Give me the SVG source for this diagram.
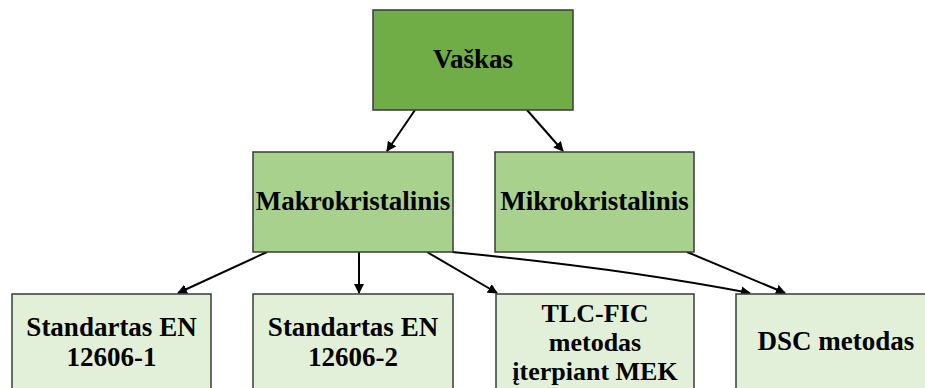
<svg xmlns="http://www.w3.org/2000/svg" width="925" height="388" viewBox="0 0 925 388">
<style>
.box{stroke:#3a3a3a;stroke-width:1.5}
.l1{fill:#70AD47}
.l2{fill:#A9D18E}
.l3{fill:#E2F0D9}
text{font-family:"Liberation Serif","Times New Roman",serif;font-weight:bold;font-size:27px;fill:#000;text-anchor:middle}
.t3{font-size:26px}
.c{fill:none;stroke:#000;stroke-width:2}
</style>
<defs>
<marker id="ah" viewBox="0 0 10 10" refX="9" refY="5" markerWidth="5" markerHeight="5" orient="auto" markerUnits="strokeWidth">
<path d="M0,0 L10,5 L0,10 z" fill="#000"/>
</marker>
</defs>
<rect width="925" height="388" fill="#fff"/>
<g id="connectors">
<line class="c" x1="415" y1="110" x2="387" y2="151" marker-end="url(#ah)"/>
<line class="c" x1="527" y1="110" x2="563" y2="151" marker-end="url(#ah)"/>
<line class="c" x1="267" y1="252" x2="178" y2="293" marker-end="url(#ah)"/>
<line class="c" x1="359" y1="252" x2="359" y2="293" marker-end="url(#ah)"/>
<line class="c" x1="427" y1="252" x2="497" y2="293" marker-end="url(#ah)"/>
<path class="c" d="M452,252 Q620,268 750,293" marker-end="url(#ah)"/>
<line class="c" x1="687" y1="252" x2="785" y2="293" marker-end="url(#ah)"/>
</g>
<g id="vaskas">
<rect class="box l1" x="373" y="10" width="200" height="100"/>
<text x="473" y="68">Vaškas</text>
</g>
<g id="makro">
<rect class="box l2" x="253" y="152" width="200" height="100"/>
<text x="353" y="210">Makrokristalinis</text>
</g>
<g id="mikro">
<rect class="box l2" x="495" y="152" width="199" height="100"/>
<text x="594.5" y="210">Mikrokristalinis</text>
</g>
<g id="en1">
<rect class="box l3" x="12" y="294" width="199" height="100"/>
<text x="111.5" y="336">Standartas EN</text>
<text x="111.5" y="366">12606-1</text>
</g>
<g id="en2">
<rect class="box l3" x="253" y="294" width="200" height="100"/>
<text x="353" y="336">Standartas EN</text>
<text x="353" y="366">12606-2</text>
</g>
<g id="tlc">
<rect class="box l3" x="496" y="294" width="198" height="100"/>
<text class="t3" x="595" y="322">TLC-FIC</text>
<text class="t3" x="595" y="351">metodas</text>
<text class="t3" x="595" y="380">įterpiant MEK</text>
</g>
<g id="dsc">
<rect class="box l3" x="736" y="294" width="200" height="100"/>
<text x="836" y="350">DSC metodas</text>
</g>
</svg>
